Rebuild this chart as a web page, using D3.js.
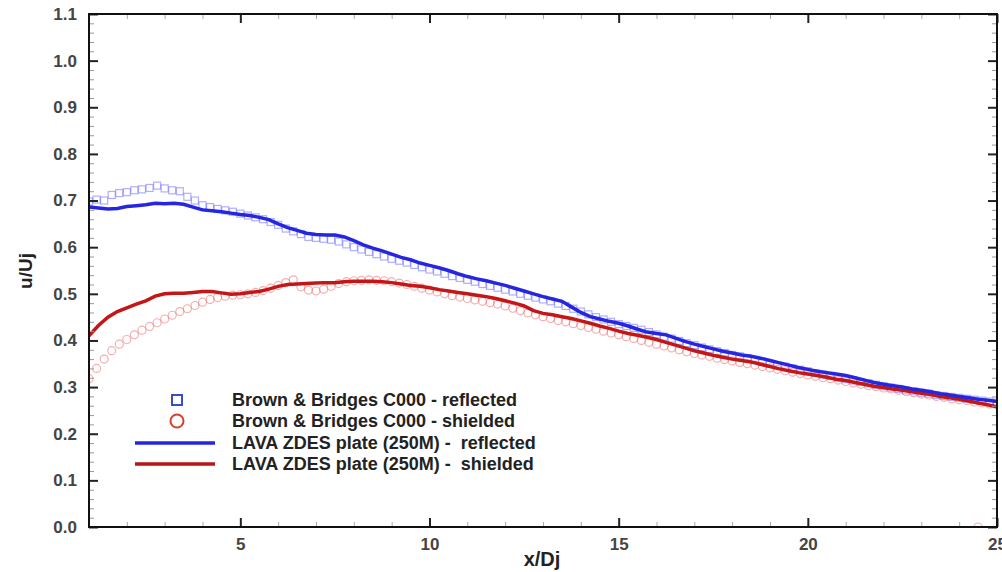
<!DOCTYPE html>
<html><head><meta charset="utf-8">
<script src="https://cdn.jsdelivr.net/npm/d3@7"></script>
<style>
body{margin:0;background:#fff;}
svg{display:block;font-family:"Liberation Sans",Arial,sans-serif;}
</style></head>
<body><svg id="c" width="1002" height="572"></svg>
<script>
// ---- data ----
const xTicks = [5, 10, 15, 20, 25];
const yTicks = [0.0, 0.1, 0.2, 0.3, 0.4, 0.5, 0.6, 0.7, 0.8, 0.9, 1.0, 1.1];
const legendLabels = [
  "Brown & Bridges C000 - reflected",
  "Brown & Bridges C000 - shielded",
  "LAVA ZDES plate (250M) -  reflected",
  "LAVA ZDES plate (250M) -  shielded"
];
const lavaX = [1.00,1.25,1.50,1.75,2.00,2.25,2.50,2.75,3.00,3.25,3.50,3.75,4.00,4.25,4.50,4.75,5.00,5.25,5.50,5.75,6.00,6.25,6.50,6.75,7.00,7.25,7.50,7.75,8.00,8.25,8.50,8.75,9.00,9.25,9.50,9.75,10.00,10.25,10.50,10.75,11.00,11.25,11.50,11.75,12.00,12.25,12.50,12.75,13.00,13.25,13.50,13.75,14.00,14.25,14.50,14.75,15.00,15.25,15.50,15.75,16.00,16.25,16.50,16.75,17.00,17.25,17.50,17.75,18.00,18.25,18.50,18.75,19.00,19.25,19.50,19.75,20.00,20.25,20.50,20.75,21.00,21.25,21.50,21.75,22.00,22.25,22.50,22.75,23.00,23.25,23.50,23.75,24.00,24.25,24.50,24.75,25.00];
const lavaReflected = [0.686,0.684,0.682,0.683,0.687,0.689,0.691,0.694,0.693,0.694,0.692,0.686,0.680,0.678,0.676,0.673,0.670,0.668,0.664,0.659,0.650,0.642,0.636,0.630,0.627,0.626,0.626,0.622,0.614,0.605,0.598,0.592,0.585,0.578,0.573,0.566,0.561,0.556,0.550,0.543,0.537,0.532,0.528,0.523,0.518,0.512,0.506,0.500,0.494,0.489,0.484,0.472,0.460,0.451,0.446,0.441,0.437,0.431,0.424,0.418,0.415,0.412,0.405,0.398,0.392,0.387,0.382,0.377,0.373,0.369,0.366,0.362,0.357,0.352,0.347,0.342,0.338,0.334,0.331,0.328,0.325,0.320,0.315,0.310,0.306,0.303,0.300,0.296,0.293,0.290,0.286,0.283,0.280,0.277,0.274,0.272,0.269];
const lavaShielded = [0.410,0.432,0.450,0.462,0.470,0.478,0.485,0.495,0.500,0.501,0.501,0.503,0.505,0.505,0.502,0.499,0.500,0.503,0.505,0.510,0.516,0.520,0.521,0.522,0.523,0.524,0.524,0.526,0.527,0.527,0.527,0.526,0.524,0.521,0.518,0.516,0.513,0.509,0.506,0.503,0.500,0.497,0.494,0.490,0.485,0.480,0.474,0.464,0.458,0.455,0.451,0.447,0.442,0.437,0.431,0.426,0.420,0.415,0.411,0.407,0.402,0.396,0.390,0.384,0.378,0.373,0.368,0.364,0.360,0.357,0.354,0.349,0.344,0.339,0.335,0.331,0.328,0.325,0.321,0.317,0.314,0.310,0.306,0.302,0.299,0.296,0.293,0.290,0.287,0.284,0.280,0.277,0.274,0.270,0.266,0.262,0.258];
const expX = [1.0,1.2,1.4,1.6,1.8,2.0,2.2,2.4,2.6,2.8,3.0,3.2,3.4,3.6,3.8,4.0,4.2,4.4,4.6,4.8,5.0,5.2,5.4,5.6,5.8,6.0,6.2,6.4,6.6,6.8,7.0,7.2,7.4,7.6,7.8,8.0,8.2,8.4,8.6,8.8,9.0,9.2,9.4,9.6,9.8,10.0,10.2,10.4,10.6,10.8,11.0,11.2,11.4,11.6,11.8,12.0,12.2,12.4,12.6,12.8,13.0,13.2,13.4,13.6,13.8,14.0,14.2,14.4,14.6,14.8,15.0,15.2,15.4,15.6,15.8,16.0,16.2,16.4,16.6,16.8,17.0,17.2,17.4,17.6,17.8,18.0,18.2,18.4,18.6,18.8,19.0,19.2,19.4,19.6,19.8,20.0,20.2,20.4,20.6,20.8,21.0,21.2,21.4,21.6,21.8,22.0,22.2,22.4,22.6,22.8,23.0,23.2,23.4,23.6,23.8,24.0,24.2,24.4,24.6,24.8,25.0];
const expReflected = [0.698,0.702,0.700,0.712,0.716,0.718,0.722,0.724,0.727,0.732,0.726,0.722,0.720,0.708,0.700,0.690,0.686,0.682,0.679,0.676,0.672,0.668,0.664,0.660,0.654,0.648,0.640,0.634,0.628,0.622,0.620,0.618,0.616,0.612,0.606,0.600,0.595,0.590,0.585,0.580,0.575,0.571,0.567,0.562,0.557,0.552,0.548,0.543,0.538,0.534,0.530,0.526,0.521,0.517,0.513,0.509,0.505,0.500,0.496,0.492,0.488,0.484,0.479,0.474,0.468,0.462,0.456,0.450,0.445,0.440,0.435,0.431,0.427,0.423,0.418,0.413,0.408,0.404,0.399,0.394,0.390,0.385,0.381,0.377,0.373,0.369,0.366,0.362,0.358,0.354,0.350,0.347,0.344,0.340,0.337,0.334,0.330,0.327,0.324,0.320,0.317,0.314,0.311,0.308,0.305,0.302,0.299,0.296,0.293,0.291,0.288,0.286,0.283,0.281,0.279,0.277,0.275,0.273,0.271,0.269,0.267];
const expShielded = [0.318,0.340,0.360,0.378,0.392,0.402,0.412,0.422,0.430,0.438,0.446,0.454,0.462,0.468,0.475,0.482,0.488,0.492,0.495,0.497,0.498,0.500,0.503,0.507,0.512,0.518,0.524,0.530,0.515,0.508,0.506,0.510,0.516,0.522,0.526,0.528,0.529,0.530,0.529,0.528,0.526,0.523,0.520,0.516,0.512,0.508,0.504,0.500,0.496,0.493,0.490,0.487,0.484,0.481,0.478,0.474,0.469,0.464,0.459,0.455,0.451,0.447,0.443,0.440,0.436,0.432,0.428,0.424,0.420,0.416,0.412,0.408,0.404,0.400,0.396,0.392,0.388,0.384,0.380,0.376,0.372,0.369,0.366,0.362,0.359,0.356,0.353,0.350,0.347,0.344,0.341,0.338,0.335,0.332,0.329,0.326,0.323,0.320,0.318,0.315,0.312,0.309,0.306,0.303,0.301,0.298,0.296,0.293,0.290,0.288,0.285,0.283,0.280,0.278,0.275,0.273,0.271,0.268,0.266,0.264,0.262];
const strayShieldedX = [24.5];
const strayShieldedY = [0.0];

// ---- layout ----
const L = 89, R = 997, T = 14, B = 527;
const svg = d3.select("#c");
svg.append("rect").attr("width",1002).attr("height",572).attr("fill","#fff");
const x = d3.scaleLinear().domain([1, 25]).range([L, R]);
const y = d3.scaleLinear().domain([0, 1.1]).range([B, T]);

const minorX = d3.range(2, 25, 1).filter(v => v % 5 !== 0);
const minorY = d3.range(0, 111, 2).map(v => v / 100).filter(v => Math.round(v*100) % 10 !== 0);

const plot = svg.append("g");
svg.append("clipPath").attr("id","clp").append("rect")
  .attr("x",L).attr("y",T).attr("width",R-L).attr("height",B-T);
const data = plot.append("g").attr("clip-path","url(#clp)");

// experimental markers
const sq = 7;
data.selectAll("rect.sq").data(expX.map((v,i)=>[v, expReflected[i]])).join("rect")
  .attr("class","sq")
  .attr("x", d => x(d[0]) - sq/2).attr("y", d => y(d[1]) - sq/2)
  .attr("width", sq).attr("height", sq)
  .attr("fill","none").attr("stroke","rgba(110,110,255,0.55)").attr("stroke-width",1.2);
const shieldPts = expX.map((v,i)=>[v, expShielded[i]]).concat(strayShieldedX.map((v,i)=>[v, strayShieldedY[i]]));
data.selectAll("circle.ci").data(shieldPts).join("circle")
  .attr("class","ci")
  .attr("cx", d => x(d[0])).attr("cy", d => y(d[1])).attr("r", 4)
  .attr("fill","none").attr("stroke","rgba(235,110,110,0.55)").attr("stroke-width",1.2);

// LAVA lines
const line = d3.line().x(d => x(d[0])).y(d => y(d[1]));
data.append("path").datum(lavaX.map((v,i)=>[v, lavaShielded[i]]))
  .attr("d", line).attr("fill","none").attr("stroke","#c41616").attr("stroke-width",3.5);
data.append("path").datum(lavaX.map((v,i)=>[v, lavaReflected[i]]))
  .attr("d", line).attr("fill","none").attr("stroke","#2626e0").attr("stroke-width",3.5);

// axes
function styleAxis(g){
  g.select(".domain").remove();
  g.selectAll(".tick line").attr("stroke","#222").attr("stroke-width",2);
  g.selectAll(".tick text").attr("font-size","17px").attr("font-weight","bold").attr("fill","#444")
    .attr("font-family","Liberation Sans, Arial, sans-serif");
}
svg.append("g").attr("transform",`translate(0,${B})`)
  .call(d3.axisBottom(x).tickValues(xTicks).tickSize(-9).tickPadding(11).tickFormat(d3.format("d")))
  .call(styleAxis);
svg.append("g").attr("transform",`translate(0,${B})`)
  .call(d3.axisBottom(x).tickValues(minorX).tickSize(-5).tickFormat(""))
  .call(g => { g.select(".domain").remove(); g.selectAll(".tick line").attr("stroke","#aaa").attr("stroke-width",1); });
svg.append("g").attr("transform",`translate(0,${T})`)
  .call(d3.axisTop(x).tickValues(xTicks).tickSize(-9).tickFormat(""))
  .call(g => { g.select(".domain").remove(); g.selectAll(".tick line").attr("stroke","#222").attr("stroke-width",2); });
svg.append("g").attr("transform",`translate(0,${T})`)
  .call(d3.axisTop(x).tickValues(minorX).tickSize(-5).tickFormat(""))
  .call(g => { g.select(".domain").remove(); g.selectAll(".tick line").attr("stroke","#aaa").attr("stroke-width",1); });
svg.append("g").attr("transform",`translate(${L},0)`)
  .call(d3.axisLeft(y).tickValues(yTicks).tickSize(-9).tickPadding(12).tickFormat(d3.format(".1f")))
  .call(styleAxis);
svg.append("g").attr("transform",`translate(${L},0)`)
  .call(d3.axisLeft(y).tickValues(minorY).tickSize(-5).tickFormat(""))
  .call(g => { g.select(".domain").remove(); g.selectAll(".tick line").attr("stroke","#999").attr("stroke-width",1); });
svg.append("g").attr("transform",`translate(${R},0)`)
  .call(d3.axisRight(y).tickValues(yTicks).tickSize(-9).tickFormat(""))
  .call(g => { g.select(".domain").remove(); g.selectAll(".tick line").attr("stroke","#222").attr("stroke-width",2); });
svg.append("g").attr("transform",`translate(${R},0)`)
  .call(d3.axisRight(y).tickValues(minorY).tickSize(-5).tickFormat(""))
  .call(g => { g.select(".domain").remove(); g.selectAll(".tick line").attr("stroke","#999").attr("stroke-width",1); });

// frame
svg.append("rect").attr("x",L).attr("y",T).attr("width",R-L).attr("height",B-T)
  .attr("fill","none").attr("stroke","#111").attr("stroke-width",2);

// titles
svg.append("text").attr("x",542).attr("y",566).attr("text-anchor","middle")
  .attr("font-size","20px").attr("font-weight","bold").attr("fill","#222").text("x/Dj");
svg.append("text").attr("transform","translate(32,271) rotate(-90)").attr("text-anchor","middle")
  .attr("font-size","19px").attr("font-weight","bold").attr("fill","#222").text("u/Uj");

// legend
const lg = svg.append("g");
const rowY = [400, 421, 443, 464];
lg.append("rect").attr("x",172).attr("y",rowY[0]-5).attr("width",10).attr("height",10)
  .attr("fill","none").attr("stroke","#3b4bd0").attr("stroke-width",2);
lg.append("circle").attr("cx",177).attr("cy",rowY[1]).attr("r",6.5)
  .attr("fill","none").attr("stroke","#d4402e").attr("stroke-width",2);
lg.append("line").attr("x1",135).attr("x2",215).attr("y1",rowY[2]).attr("y2",rowY[2])
  .attr("stroke","#2626e0").attr("stroke-width",3.5);
lg.append("line").attr("x1",135).attr("x2",215).attr("y1",rowY[3]).attr("y2",rowY[3])
  .attr("stroke","#b81414").attr("stroke-width",3.5);
lg.selectAll("text").data(legendLabels).join("text")
  .attr("x",232).attr("y",(d,i)=>rowY[i]+6)
  .attr("font-size","18px").attr("font-weight","bold").attr("fill","#222")
  .style("white-space","pre").text(d=>d);
</script>
</body></html>
